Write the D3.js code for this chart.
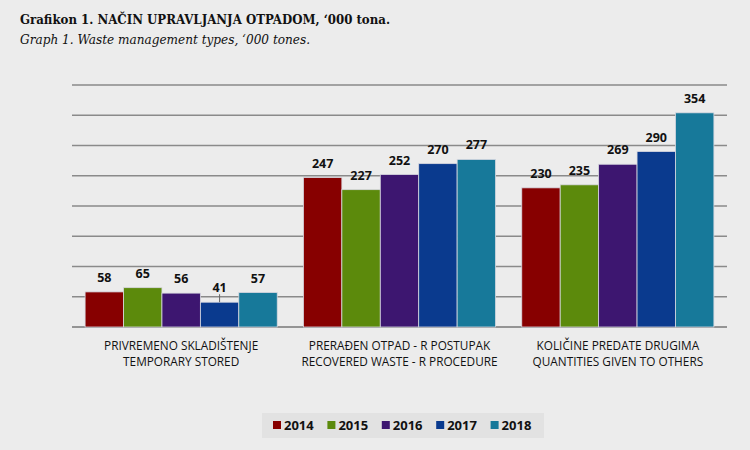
<!DOCTYPE html>
<html><head><meta charset="utf-8">
<script src="https://cdn.jsdelivr.net/npm/d3@7"></script>
<style>body{margin:0;background:#ececec;}svg{display:block;}</style>
</head><body>
<svg id="c" width="750" height="450"></svg>
<script>
const categories = [["PRIVREMENO SKLADIŠTENJE","TEMPORARY STORED"],["PRERAĐEN OTPAD - R POSTUPAK","RECOVERED WASTE - R PROCEDURE"],["KOLIČINE PREDATE DRUGIMA","QUANTITIES GIVEN TO OTHERS"]];
const years = ["2014","2015","2016","2017","2018"];
const v2014 = [58, 247, 230];
const v2015 = [65, 227, 235];
const v2016 = [56, 252, 269];
const v2017 = [41, 270, 290];
const v2018 = [57, 277, 354];
const series = [v2014, v2015, v2016, v2017, v2018];
const colors = ["#870000", "#5c8a0c", "#3d1670", "#0a3a8e", "#17799a"];
const yTicks = [0,50,100,150,200,250,300,350,400];

const svg = d3.select("#c");
svg.append("rect").attr("width",750).attr("height",450).attr("fill","#ececec");

svg.append("text").attr("x",20).attr("y",23.5).attr("font-family","DejaVu Serif, serif").attr("font-weight","bold").attr("font-size",13).attr("fill","#111")
  .attr("textLength",370).attr("lengthAdjust","spacingAndGlyphs")
  .text("Grafikon 1. NAČIN UPRAVLJANJA OTPADOM, ‘000 tona.");
svg.append("text").attr("x",20).attr("y",44).attr("font-family","DejaVu Serif, serif").attr("font-style","italic").attr("font-size",12.6).attr("fill","#111")
  .attr("textLength",290).attr("lengthAdjust","spacingAndGlyphs")
  .text("Graph 1. Waste management types, ‘000 tones.");

const x0 = d3.scaleBand().domain(d3.range(categories.length)).range([72,727]).paddingInner(0.12).paddingOuter(0.06);
const y = d3.scaleLinear().domain([0,400]).range([327,85]);
const x1 = d3.scaleBand().domain(d3.range(years.length)).range([0,x0.bandwidth()]);

svg.append("g").selectAll("line").data(yTicks).join("line")
  .attr("x1",72).attr("x2",727).attr("y1",d=>y(d)).attr("y2",d=>y(d))
  .attr("stroke",d=>d===0?"#777":"#8a8a8a").attr("stroke-width",d=>d===0?1.5:1.3);

const g = svg.append("g");
categories.forEach((c,ci)=>{
  series.forEach((s,si)=>{
    const bx = x0(ci)+x1(si);
    g.append("rect").attr("x",bx).attr("y",y(s[ci])).attr("width",x1.bandwidth()).attr("height",y(0)-y(s[ci]))
      .attr("fill",colors[si]).attr("stroke","#d8d8e0").attr("stroke-width",0.8);
    g.append("text").attr("x",bx+x1.bandwidth()/2).attr("y",y(s[ci])-10).attr("text-anchor","middle")
      .attr("font-family","Open Sans, sans-serif").attr("font-weight","bold").attr("font-size",12.5).attr("fill","#111")
      .text(s[ci]);
    if (ci===0 && si===3) {
      g.append("line").attr("x1",bx+x1.bandwidth()/2).attr("x2",bx+x1.bandwidth()/2)
        .attr("y1",y(s[ci])-8).attr("y2",y(s[ci])).attr("stroke","#666").attr("stroke-width",1);
    }
  });
  const cx = x0(ci)+x0.bandwidth()/2;
  const t = svg.append("text").attr("x",cx).attr("text-anchor","middle")
    .attr("font-family","Open Sans, sans-serif").attr("font-size",11.8).attr("fill","#111");
  t.append("tspan").attr("x",cx).attr("y",350).text(c[0]);
  t.append("tspan").attr("x",cx).attr("y",366).text(c[1]);
});

// legend
svg.append("rect").attr("x",262).attr("y",413).attr("width",282).attr("height",25).attr("fill","#e2e2e2");
const lx = d3.scaleBand().domain(years).range([273,545]);
years.forEach((yr,i)=>{
  const gx = lx(yr);
  svg.append("rect").attr("x",gx).attr("y",421).attr("width",8).attr("height",8).attr("fill",colors[i]);
  svg.append("text").attr("x",gx+11).attr("y",430).attr("font-family","Open Sans, sans-serif").attr("font-weight","bold").attr("font-size",13).attr("fill","#111").text(yr);
});
</script>
</body></html>
